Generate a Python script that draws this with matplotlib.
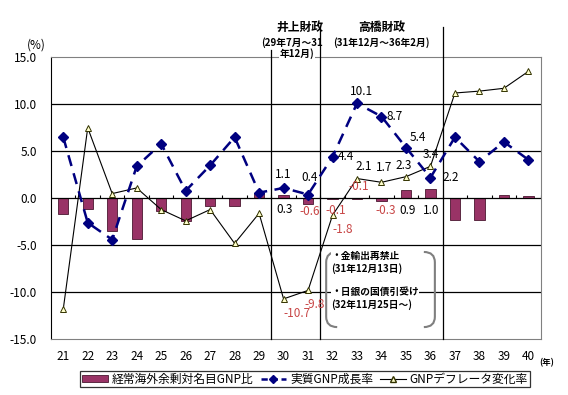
import numpy as np
import matplotlib
matplotlib.use("Agg")
import matplotlib.pyplot as plt
from matplotlib.path import Path
from matplotlib.patches import PathPatch, Patch
from matplotlib.lines import Line2D

plt.rcParams['font.family'] = ['Noto Sans CJK JP', 'DejaVu Sans']

# data (昭和年)
years = [21, 22, 23, 24, 25, 26, 27, 28, 29, 30, 31, 32, 33, 34, 35, 36, 37, 38, 39, 40]
surplus = [-1.7, -1.1, -3.5, -4.3, -1.4, -2.4, -0.8, -0.8, 0.6, 0.3, -0.6, -0.1, -0.1, -0.3, 0.9, 1.0, -2.3, -2.3, 0.3, 0.2]
growth = [6.5, -2.6, -4.4, 3.4, 5.8, 0.8, 3.5, 6.5, 0.6, 1.1, 0.4, 4.4, 10.1, 8.7, 5.4, 2.2, 6.5, 3.9, 6.0, 4.1]
deflator = [-11.8, 7.5, 0.5, 1.1, -1.2, -2.4, -1.2, -4.8, -1.6, -10.7, -9.8, -1.8, 2.1, 1.7, 2.3, 3.4, 11.2, 11.4, 11.7, 13.5]
yticks = [15, 10, 5, 0, -5, -10, -15]

# label offsets (pixels) for years 30-36
growth_off = {30: (0, 13), 31: (2, 17), 32: (13, 0), 33: (4, 12), 34: (13, 0), 35: (12, 10), 36: (20, 0)}
defl_off = {30: (13, -15), 31: (7, -14), 32: (10, -14), 33: (7, 12), 34: (3, 15), 35: (-2, 11), 36: (0, 12)}
surp_off = {30: (1, -11), 31: (2, -13), 32: (3, -12), 33: (2, 12), 34: (4, -12), 35: (2, -12), 36: (1, -12)}

x = np.arange(len(years))
red = '#C84646'

fig = plt.figure(figsize=(5.68, 3.95), dpi=100)
ax = fig.add_axes([0.0898, 0.141, 0.862, 0.714])

for g in [10, 5, -5, -10]:
    ax.axhline(g, color='black', lw=0.9, zorder=1)
ax.axhline(0, color='black', lw=0.9, zorder=3)
ax.vlines(np.arange(len(years) + 1) - 0.5, 0, 0.32, color='black', lw=0.8, zorder=3)

ax.bar(x, surplus, width=0.42, color='#993366', edgecolor='#4a1830', lw=0.6, zorder=2)
ax.plot(x, growth, color='#000080', lw=1.8, ls=(0, (4.5, 3)), marker='D', ms=4.8,
        mfc='#000080', mec='#000080', zorder=5)
ax.plot(x, deflator, color='black', lw=0.8, marker='^', ms=5,
        mfc='#FFFFCC', mec='#333300', mew=0.7, zorder=4)

# data labels
for i, yr in enumerate(years):
    if yr in growth_off:
        v = growth[i]
        ax.annotate(f"{v:.1f}", (i, v), xytext=growth_off[yr], textcoords='offset pixels',
                    ha='center', va='center', fontsize=8.5,
                    color=red if v < 0 else 'black', zorder=6)
    if yr in defl_off:
        v = deflator[i]
        ax.annotate(f"{v:.1f}", (i, v), xytext=defl_off[yr], textcoords='offset pixels',
                    ha='center', va='center', fontsize=8.5,
                    color=red if v < 0 else 'black', zorder=6)
    if yr in surp_off:
        v = surplus[i]
        ax.annotate(f"{v:.1f}", (i, 0), xytext=surp_off[yr], textcoords='offset pixels',
                    ha='center', va='center', fontsize=8.5,
                    color=red if v < 0 else 'black', zorder=6)

ax.set_xlim(-0.5, len(years) - 0.5)
ax.set_ylim(-15, 15)
ax.set_yticks(yticks)
ax.set_yticklabels([f"{t:.1f}".replace('\u2212', '-') for t in yticks], fontsize=8.5)
ax.set_xticks(x)
ax.set_xticklabels([str(y) for y in years], fontsize=8.5)
ax.tick_params(axis='x', length=0, pad=8)
ax.tick_params(axis='y', length=0, pad=10)
for s in ['top', 'right', 'bottom']:
    ax.spines[s].set_color('#808080')
ax.spines['left'].set_color('black')

# period separators and headers
for b, top in [(8.5, 15.8), (10.5, 18.2), (15.5, 18.2)]:
    ax.plot([b, b], [-15, top], color='black', lw=0.9, clip_on=False, zorder=3)

ax.text(9.65, 18.2, "井上財政", ha='center', va='center', fontsize=8.5, fontweight='bold')
ax.text(9.35, 16.6, "(29年7月～31", ha='center', va='center', fontsize=7, fontweight='bold')
ax.text(9.55, 15.4, "年12月)", ha='center', va='center', fontsize=7, fontweight='bold',
        bbox=dict(facecolor='white', edgecolor='none', pad=0.5))
ax.text(13.0, 18.2, "高橋財政", ha='center', va='center', fontsize=8.5, fontweight='bold')
ax.text(13.0, 16.6, "(31年12月～36年2月)", ha='center', va='center', fontsize=7, fontweight='bold')

ax.text(-0.05, 1.045, "(%)", transform=ax.transAxes, ha='left', va='center', fontsize=8.5)
fig.text(0.963, 0.081, "(年)", ha='center', va='center', fontsize=6, fontweight='bold')

# note box with rounded brackets
x0, x1, yt, yb, rx, ry = 10.74, 15.18, -5.71, -13.7, 0.45, 1.1
lb = Path([(x0 + rx, yt), (x0, yt), (x0, yt - ry), (x0, yb + ry), (x0, yb), (x0 + rx, yb)],
          [Path.MOVETO, Path.CURVE3, Path.CURVE3, Path.LINETO, Path.CURVE3, Path.CURVE3])
rb = Path([(x1 - rx, yt), (x1, yt), (x1, yt - ry), (x1, yb + ry), (x1, yb), (x1 - rx, yb)],
          [Path.MOVETO, Path.CURVE3, Path.CURVE3, Path.LINETO, Path.CURVE3, Path.CURVE3])
for p in (lb, rb):
    ax.add_patch(PathPatch(p, fill=False, edgecolor='#7f7f7f', lw=1.5, zorder=6))
notes = [("・金輸出再禁止", -6.1), ("(31年12月13日)", -7.5),
         ("・日銀の国債引受け", -10.0), ("(32年11月25日～)", -11.35)]
for t, yy in notes:
    ax.text(10.95, yy, t, ha='left', va='center', fontsize=7, fontweight='bold', zorder=7,
            bbox=dict(facecolor='white', edgecolor='none', pad=0.3))

# legend
handles = [Patch(facecolor='#993366', edgecolor='#4a1830', lw=0.6),
           Line2D([], [], color='#000080', lw=1.8, ls=(0, (2.5, 1.5)), marker='D', ms=4.5),
           Line2D([], [], color='black', lw=0.8, marker='^', ms=4.5, mfc='#FFFFCC', mec='#333300')]
leg = fig.legend(handles, ["経常海外余剰対名目GNP比", "実質GNP成長率", "GNPデフレータ変化率"],
                 loc='center', bbox_to_anchor=(0.537, 0.04), ncol=3, fontsize=8.5,
                 frameon=True, fancybox=False, edgecolor='black', handlelength=2.2,
                 handleheight=0.5, columnspacing=0.6, handletextpad=0.3,
                 borderpad=0.15, borderaxespad=0)
leg.get_frame().set_linewidth(0.9)

plt.savefig("out.png", dpi=100)
